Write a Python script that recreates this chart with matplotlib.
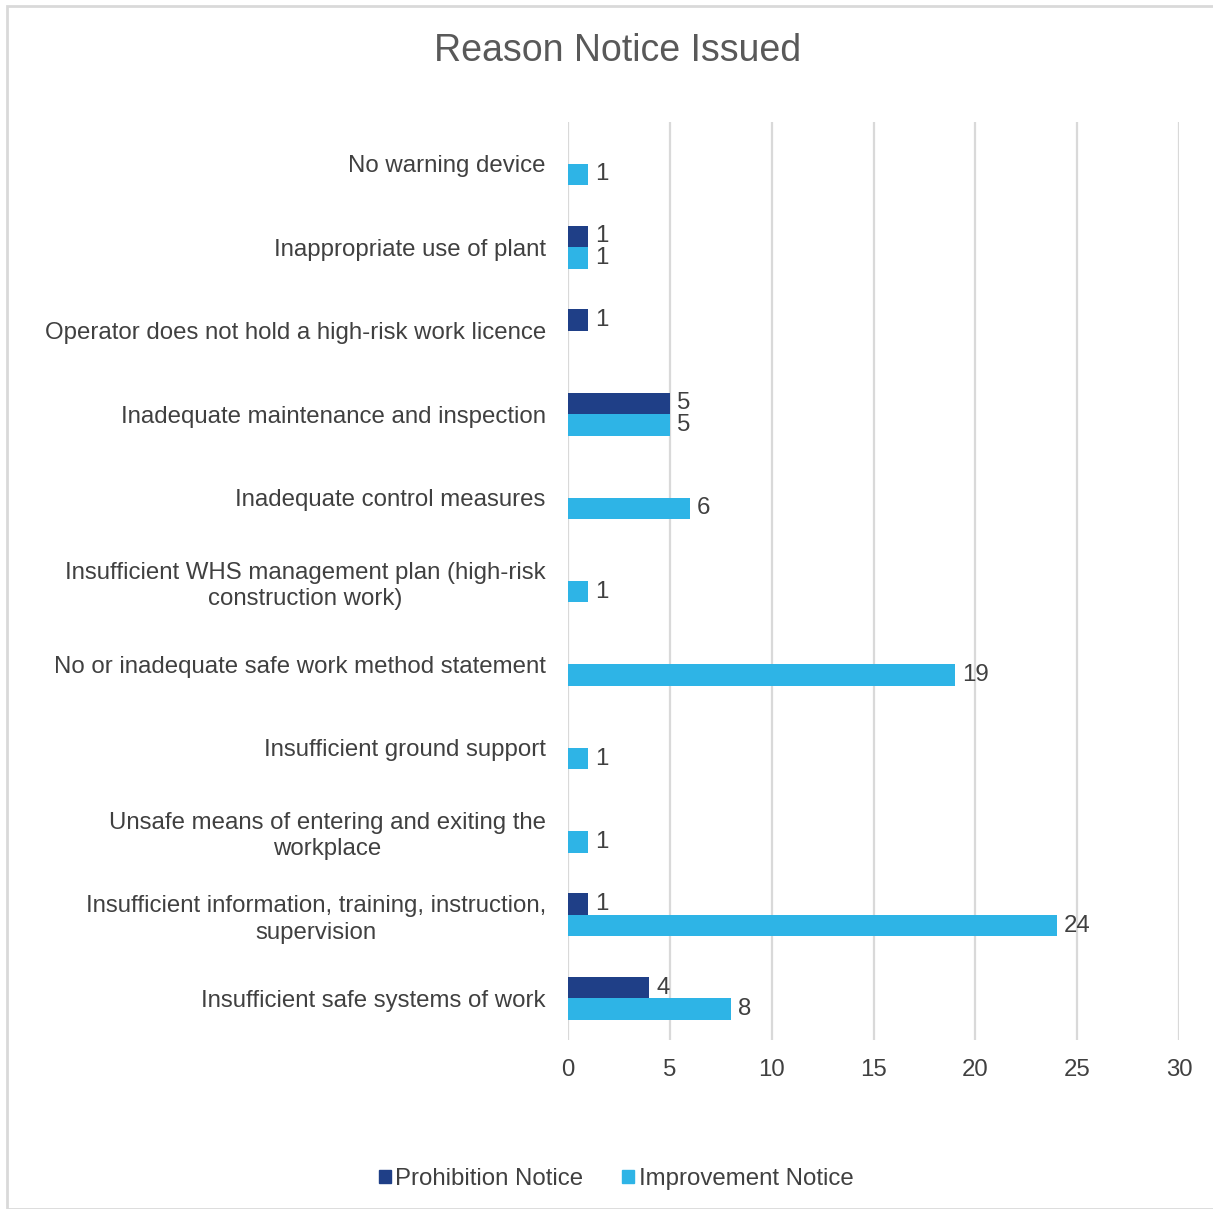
import matplotlib
matplotlib.use("Agg")
import matplotlib.pyplot as plt
import numpy as np
from matplotlib.patches import Rectangle, Patch

plt.rcParams['font.family'] = ['Liberation Sans', 'DejaVu Sans']

categories = [
    "No warning device",
    "Inappropriate use of plant",
    "Operator does not hold a high-risk work licence",
    "Inadequate maintenance and inspection",
    "Inadequate control measures",
    "Insufficient WHS management plan (high-risk\nconstruction work)",
    "No or inadequate safe work method statement",
    "Insufficient ground support",
    "Unsafe means of entering and exiting the\nworkplace",
    "Insufficient information, training, instruction,\nsupervision",
    "Insufficient safe systems of work",
]
prohibition = [0, 1, 1, 5, 0, 0, 0, 0, 0, 1, 4]
improvement = [1, 1, 0, 5, 6, 1, 19, 1, 1, 24, 8]
xticks = [0, 5, 10, 15, 20, 25, 30]
series_names = ["Prohibition Notice", "Improvement Notice"]

c_pro = "#1F3F87"
c_imp = "#2EB4E6"
text_c = "#404040"
fs = 17.3

W, H = 1213, 1209
fig = plt.figure(figsize=(W / 100, H / 100), dpi=100)

ax = fig.add_axes([568 / W, 1 - 1040 / H, 611 / W, (1040 - 122) / H])
n = len(categories)
y = np.arange(n)
h = 0.257
ax.barh(y - h / 2, prohibition, height=h, color=c_pro, zorder=3)
ax.barh(y + h / 2, improvement, height=h, color=c_imp, zorder=3)
ax.set_ylim(n - 0.5, -0.5)
ax.set_xlim(0, 30)
ax.set_xticks(xticks)
ax.set_xticklabels([str(t) for t in xticks])
ax.set_yticks(y)
ax.set_yticklabels(categories)
for lab in ax.get_yticklabels():
    lab.set_multialignment('center')
    lab.set_linespacing(1.25)
ax.tick_params(axis='y', length=0, pad=16, labelsize=fs, labelcolor=text_c)
ax.tick_params(axis='x', length=0, pad=14, labelsize=fs, labelcolor=text_c)
for s in ax.spines.values():
    s.set_visible(False)
ax.grid(axis='x', color="#D9D9D9", linewidth=1.6, zorder=0)
ax.set_axisbelow(True)

for i in range(n):
    if prohibition[i]:
        ax.annotate(str(prohibition[i]), (prohibition[i], y[i] - h / 2), xytext=(5, 0),
                    textcoords='offset points', va='center', ha='left', fontsize=fs, color=text_c)
    if improvement[i]:
        ax.annotate(str(improvement[i]), (improvement[i], y[i] + h / 2), xytext=(5, 0),
                    textcoords='offset points', va='center', ha='left', fontsize=fs, color=text_c)

fig.text(618 / W, 1 - 51 / H, "Reason Notice Issued", ha='center', va='center',
         fontsize=27, color="#595959")

handles = [Patch(color=c_pro), Patch(color=c_imp)]
fig.legend(handles, series_names, loc='center', bbox_to_anchor=(616 / W, 1 - 1179 / H),
           ncol=2, frameon=False, fontsize=fs, handlelength=0.5, handleheight=0.5,
           handletextpad=0.2, columnspacing=1.6, labelcolor=text_c)

fig.add_artist(Rectangle((7 / W, 0), 1.0, 1 - 6 / H, transform=fig.transFigure,
                         fill=False, edgecolor="#D9D9D9", linewidth=2))

fig.savefig("out.png", dpi=100)
